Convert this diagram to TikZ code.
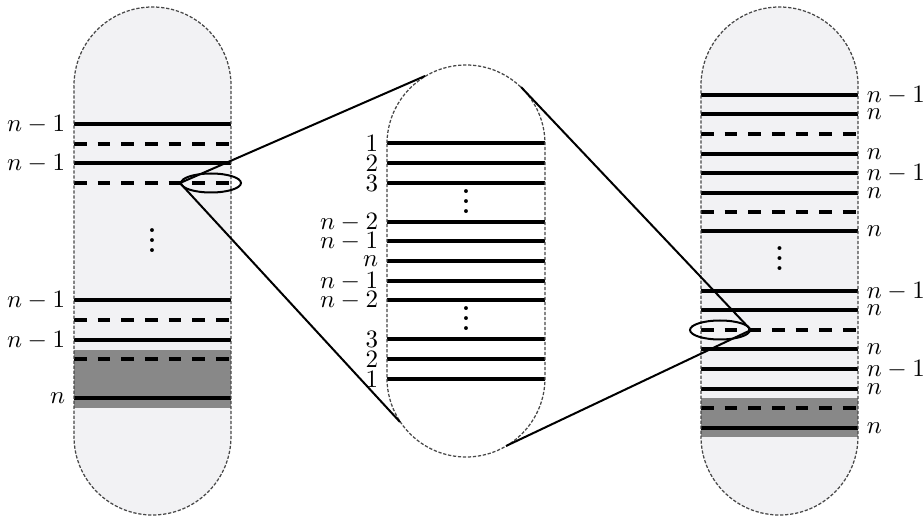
\documentclass[tikz,border=0pt]{standalone}
\usepackage{tikz}
\usetikzlibrary{shapes.geometric}
\definecolor{tube}{RGB}{242,242,244}
\definecolor{band}{RGB}{136,136,136}

\begin{document}
\begin{tikzpicture}[x=0.4pt, y=-0.4pt]
\tikzstyle{capsule}=[draw=black!72, line width=0.5pt, dash pattern=on 1.3pt off 0.7pt, rounded corners=31.4pt]
\tikzstyle{layer}=[line width=1.9pt]
\tikzstyle{sheet}=[line width=1.9pt, dash pattern=on 5.1pt off 4.35pt]
\tikzstyle{dots}=[anchor=south, inner sep=0pt, font=\bfseries]
\tikzstyle{lens}=[draw, thick, ellipse, minimum width=24pt, minimum height=7.6pt, inner sep=0pt]

\useasboundingbox (0,0) rectangle (923,519);

% left tube
\fill[tube, rounded corners=31.4pt] (74,7) rectangle (231,515);
\fill[band] (74,350) rectangle (231,408);
\foreach \y/\lab in {124/n-1, 163/n-1, 300/n-1, 340/n-1, 398/n}
{\draw[layer] (74,\y) -- (231,\y);
 \node[left] (a\y) at (74,\y) {$\lab$};}
\foreach \y in {144, 183, 320, 359}
{\draw[sheet] (74,\y) -- (231,\y);}
\node[dots] (adots) at (152,253) {$\vdots$};
\draw[capsule] (74,7) rectangle (231,515);

% zoomed tube
\foreach \y/\lab in {143/1, 163/2, 183/3, 222/n-2, 241/n-1, 261/n, 281/n-1, 300/n-2, 339/3, 359/2, 379/1}
{\draw[layer] (387,\y) -- (545,\y);
 \node[left] (b\y) at (387,\y) {$\lab$};}
\node[dots] (bdots1) at (466,214) {$\vdots$};
\node[dots] (bdots2) at (466,331) {$\vdots$};
\draw[capsule, rounded corners=31.6pt] (387,65) rectangle (545,457);

% right tube
\fill[tube, rounded corners=31.4pt] (701,7) rectangle (858,515);
\fill[band] (701,398) rectangle (858,437);
\foreach \y/\lab in {95/n-1, 114/n, 154/n, 173/n-1, 193/n, 231/n, 291/n-1, 310/n, 349/n, 369/n-1, 389/n, 428/n}
{\draw[layer] (701,\y) -- (858,\y);
 \node[right] (c\y) at (858,\y) {$\lab$};}
\foreach \y in {134, 212, 330, 408}
{\draw[sheet] (701,\y) -- (858,\y);}
\node[dots] (cdots) at (779.5,271) {$\vdots$};
\draw[capsule] (701,7) rectangle (858,515);

% zoom lenses
\node[lens] (zl) at (211,183) {};
\node[lens] (zr) at (720,330) {};
\coordinate (mtl) at (425,76);
\coordinate (mbl) at (400,422);
\coordinate (mtr) at (521,87);
\coordinate (mbr) at (506,446);
\draw[thick] (zl.west) -- (mtl);
\draw[thick] (zl.west) -- (mbl);
\draw[thick] (zr.east) -- (mtr);
\draw[thick] (zr.east) -- (mbr);
\end{tikzpicture}
\end{document}
